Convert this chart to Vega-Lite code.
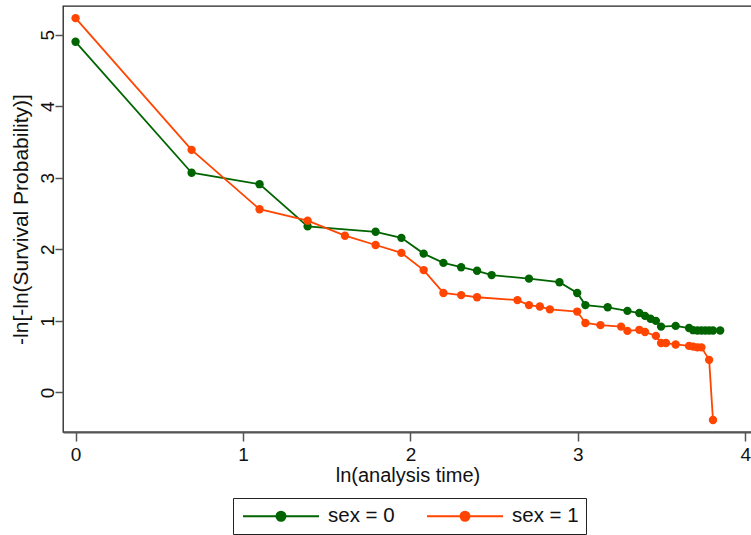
{
  "$schema": "https://vega.github.io/schema/vega-lite/v6.json",
  "autosize": "none",
  "padding": {"left": 63, "top": 6, "right": 0, "bottom": 103},
  "width": 689,
  "height": 426,
  "background": "white",
  "config": {
    "font": "Liberation Sans",
    "view": {"stroke": "#222", "strokeWidth": 1.3},
    "axis": {"grid": false, "labelColor": "#111", "titleColor": "#111", "titleFontWeight": "normal"}
  },
  "data": {
    "values": [
      {"sex": 0, "lnt": 0, "y": 4.90},
      {"sex": 0, "lnt": 0.693, "y": 3.07},
      {"sex": 0, "lnt": 1.099, "y": 2.91},
      {"sex": 0, "lnt": 1.386, "y": 2.32},
      {"sex": 0, "lnt": 1.792, "y": 2.245},
      {"sex": 0, "lnt": 1.946, "y": 2.16},
      {"sex": 0, "lnt": 2.079, "y": 1.94},
      {"sex": 0, "lnt": 2.197, "y": 1.81},
      {"sex": 0, "lnt": 2.303, "y": 1.75},
      {"sex": 0, "lnt": 2.398, "y": 1.70},
      {"sex": 0, "lnt": 2.485, "y": 1.64},
      {"sex": 0, "lnt": 2.708, "y": 1.59},
      {"sex": 0, "lnt": 2.890, "y": 1.54},
      {"sex": 0, "lnt": 2.996, "y": 1.39},
      {"sex": 0, "lnt": 3.045, "y": 1.22},
      {"sex": 0, "lnt": 3.178, "y": 1.19},
      {"sex": 0, "lnt": 3.296, "y": 1.14},
      {"sex": 0, "lnt": 3.367, "y": 1.11},
      {"sex": 0, "lnt": 3.401, "y": 1.07},
      {"sex": 0, "lnt": 3.434, "y": 1.03},
      {"sex": 0, "lnt": 3.466, "y": 1.00},
      {"sex": 0, "lnt": 3.497, "y": 0.92},
      {"sex": 0, "lnt": 3.584, "y": 0.93},
      {"sex": 0, "lnt": 3.664, "y": 0.90},
      {"sex": 0, "lnt": 3.689, "y": 0.87},
      {"sex": 0, "lnt": 3.714, "y": 0.865},
      {"sex": 0, "lnt": 3.738, "y": 0.865},
      {"sex": 0, "lnt": 3.761, "y": 0.865},
      {"sex": 0, "lnt": 3.784, "y": 0.865},
      {"sex": 0, "lnt": 3.807, "y": 0.865},
      {"sex": 0, "lnt": 3.850, "y": 0.865},
      {"sex": 1, "lnt": 0, "y": 5.23},
      {"sex": 1, "lnt": 0.693, "y": 3.39},
      {"sex": 1, "lnt": 1.099, "y": 2.56},
      {"sex": 1, "lnt": 1.386, "y": 2.40},
      {"sex": 1, "lnt": 1.609, "y": 2.19},
      {"sex": 1, "lnt": 1.792, "y": 2.06},
      {"sex": 1, "lnt": 1.946, "y": 1.95},
      {"sex": 1, "lnt": 2.079, "y": 1.71},
      {"sex": 1, "lnt": 2.197, "y": 1.39},
      {"sex": 1, "lnt": 2.303, "y": 1.36},
      {"sex": 1, "lnt": 2.398, "y": 1.33},
      {"sex": 1, "lnt": 2.639, "y": 1.29},
      {"sex": 1, "lnt": 2.708, "y": 1.22},
      {"sex": 1, "lnt": 2.773, "y": 1.20},
      {"sex": 1, "lnt": 2.833, "y": 1.16},
      {"sex": 1, "lnt": 2.996, "y": 1.13},
      {"sex": 1, "lnt": 3.045, "y": 0.97},
      {"sex": 1, "lnt": 3.135, "y": 0.94},
      {"sex": 1, "lnt": 3.258, "y": 0.92},
      {"sex": 1, "lnt": 3.296, "y": 0.86},
      {"sex": 1, "lnt": 3.367, "y": 0.875},
      {"sex": 1, "lnt": 3.401, "y": 0.845},
      {"sex": 1, "lnt": 3.466, "y": 0.79},
      {"sex": 1, "lnt": 3.497, "y": 0.69},
      {"sex": 1, "lnt": 3.526, "y": 0.69},
      {"sex": 1, "lnt": 3.584, "y": 0.67},
      {"sex": 1, "lnt": 3.664, "y": 0.65},
      {"sex": 1, "lnt": 3.689, "y": 0.64},
      {"sex": 1, "lnt": 3.714, "y": 0.63},
      {"sex": 1, "lnt": 3.738, "y": 0.63},
      {"sex": 1, "lnt": 3.784, "y": 0.455},
      {"sex": 1, "lnt": 3.807, "y": -0.385}
    ]
  },
  "encoding": {
    "x": {
      "field": "lnt", "type": "quantitative",
      "scale": {"domain": [-0.075, 4.04], "nice": false, "zero": false},
      "axis": {
        "title": "ln(analysis time)", "values": [0, 1, 2, 3, 4], "format": "d",
        "domainColor": "#555", "domainWidth": 2,
        "tickColor": "#555", "tickWidth": 1.5, "tickSize": 9,
        "labelFontSize": 19, "labelPadding": 4, "labelFont": "Liberation Sans",
        "titleFontSize": 20, "titleFont": "Liberation Sans", "titlePadding": 1
      }
    },
    "y": {
      "field": "y", "type": "quantitative",
      "scale": {"domain": [-0.553, 5.40], "nice": false, "zero": false},
      "axis": {
        "title": "-ln[-ln(Survival Probability)]", "values": [0, 1, 2, 3, 4, 5], "format": "d",
        "domain": false,
        "tickColor": "#555", "tickWidth": 1.5, "tickSize": 8,
        "labelAngle": 270, "labelAlign": "center", "labelBaseline": "alphabetic",
        "labelFontSize": 19, "labelPadding": 2, "labelFont": "Liberation Sans",
        "titleFontSize": 21, "titleFont": "Liberation Sans", "titlePadding": 7
      }
    },
    "color": {
      "field": "sex", "type": "nominal",
      "scale": {"domain": [0, 1], "range": ["#006400", "#FF4500"]},
      "legend": {
        "title": null, "orient": "none", "legendX": 170, "legendY": 492,
        "direction": "horizontal", "columns": 2,
        "labelExpr": "'sex = ' + datum.label",
        "labelFontSize": 20.5, "labelFont": "Liberation Sans", "labelColor": "#111",
        "strokeColor": "#222", "padding": 7,
        "symbolType": "M-0.8,0L6.8,0M2.55,0A0.45,0.45 0 1,0 3.45,0A0.45,0.45 0 1,0 2.55,0Z",
        "symbolSize": 400, "symbolStrokeWidth": 2, "labelOffset": 66, "columnPadding": 28,
        "encode": {"symbols": {"update": {"fill": {"scale": "color", "field": "value"}, "stroke": {"scale": "color", "field": "value"}, "fillOpacity": {"value": 1}}}}
      }
    }
  },
  "layer": [
    {"transform": [{"filter": "datum.sex == 0"}], "mark": {"type": "line", "strokeWidth": 1.8}},
    {"transform": [{"filter": "datum.sex == 0"}], "mark": {"type": "circle", "size": 70, "opacity": 1}},
    {"transform": [{"filter": "datum.sex == 1"}], "mark": {"type": "line", "strokeWidth": 1.8}},
    {"transform": [{"filter": "datum.sex == 1"}], "mark": {"type": "circle", "size": 70, "opacity": 1}}
  ]
}
